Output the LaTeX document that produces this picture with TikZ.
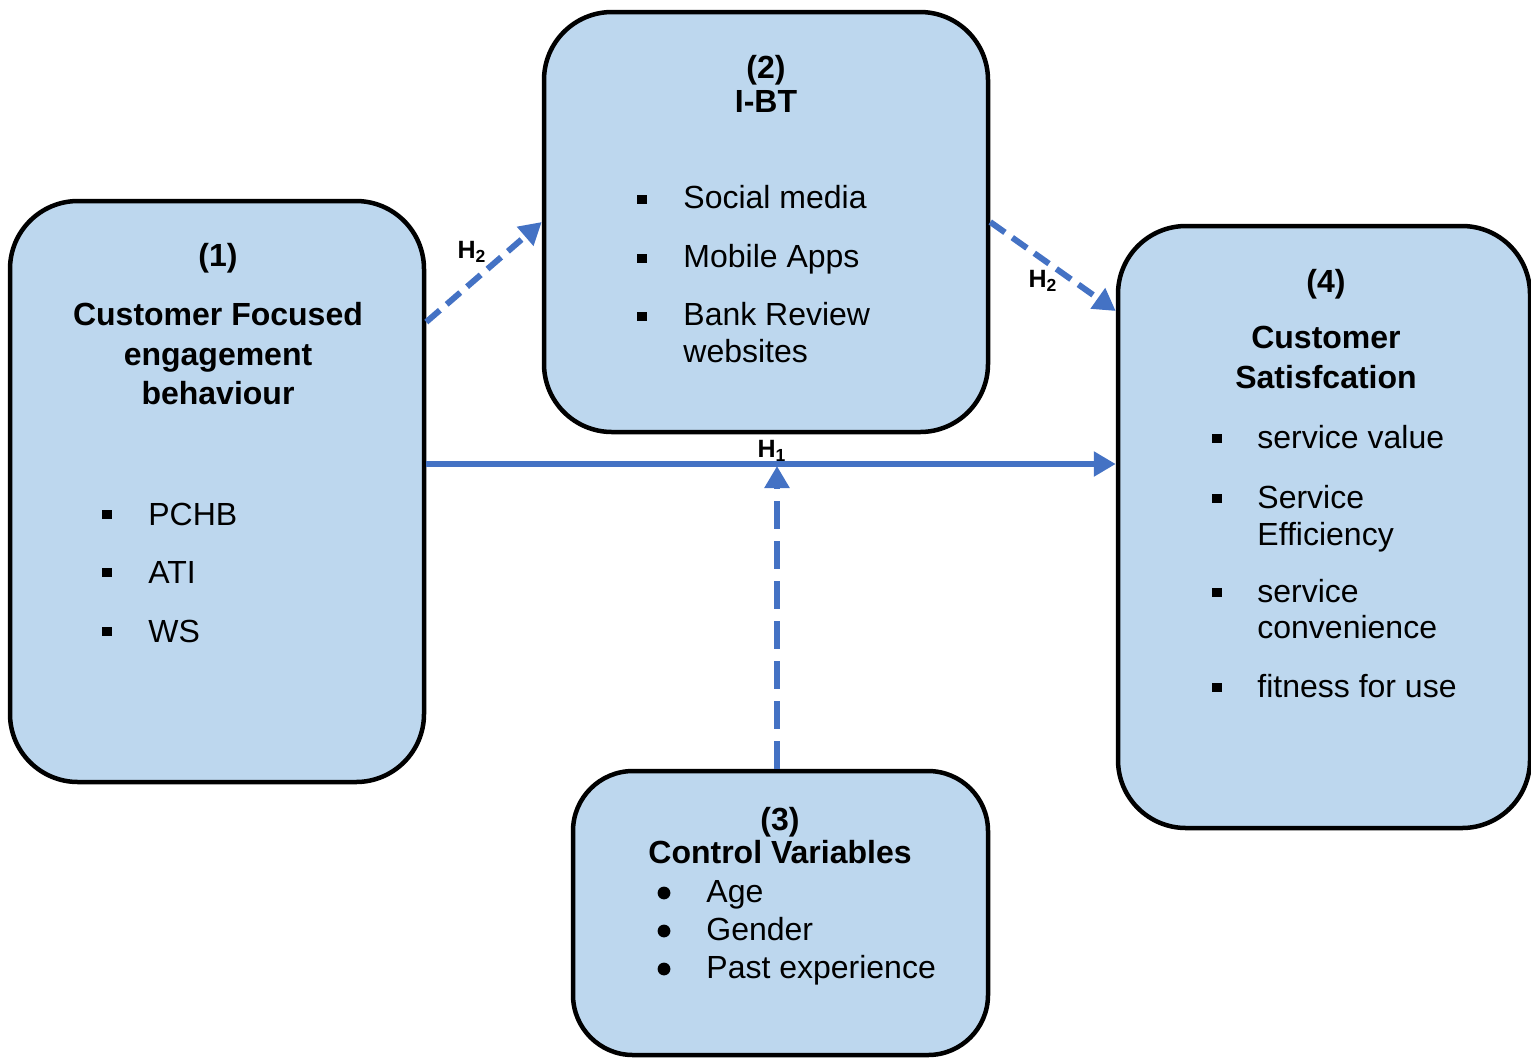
\documentclass[tikz,border=0pt]{standalone}
\usepackage{fontspec}
\setmainfont{Liberation Sans}
\usetikzlibrary{positioning}
\usetikzlibrary{arrows.meta}
\usetikzlibrary{calc}

\definecolor{boxfill}{RGB}{189,215,238}
\definecolor{linkblue}{RGB}{68,114,196}

\begin{document}
\begin{tikzpicture}[x=0.5pt,y=-0.5pt,
		box/.style={draw=black, line width=2.25pt, fill=boxfill, rounded corners=34pt, inner sep=0pt},
		title/.style={font=\fontsize{16}{19}\selectfont\bfseries, anchor=base, inner sep=0pt},
		entry/.style={font=\fontsize{16}{19}\selectfont, anchor=base west, inner sep=0pt},
		hlabel/.style={font=\fontsize{12.5}{14}\selectfont\bfseries, inner sep=0pt},
		link/.style={draw=linkblue, line width=2.75pt, -{Triangle[length=11pt,width=12pt]}},
		longdash/.style={link, dash pattern=on 14pt off 6pt},
		shortdash/.style={link, line width=3pt, dash pattern=on 9pt off 4.5pt}]
		\useasboundingbox (0,0) rectangle (1531,1057);

		% Define the boxes
		\node[box, minimum width=207pt, minimum height=290.5pt] (cfe) at (217,491.5) {};
		\node[box, minimum width=222pt, minimum height=210pt] (ibt) at (766,222) {};
		\node[box, minimum width=207.5pt, minimum height=142pt, rounded corners=30pt] (ctrl) at (780.5,913) {};
		\node[box, minimum width=206pt, minimum height=301pt] (csat) at (1324,527) {};

		% Titles
		\foreach \y/\txt [count=\i] in {266/{(1)}, 325/Customer Focused, 365/engagement, 404/behaviour}
		\node[title] (t1-\i) at (218,\y) {\txt};
		\foreach \y/\txt [count=\i] in {78/{(2)}, 112/I-BT}
		\node[title] (t2-\i) at (766,\y) {\txt};
		\foreach \y/\txt [count=\i] in {830/{(3)}, 863/Control Variables}
		\node[title] (t3-\i) at (780,\y) {\txt};
		\foreach \y/\txt [count=\i] in {292/{(4)}, 348/Customer, 388/Satisfcation}
		\node[title] (t4-\i) at (1326,\y) {\txt};

		% Bullet lists
		\foreach \y/\txt [count=\i] in {525/PCHB, 583/ATI, 642/WS} {
			\fill (102,\y-15.5) rectangle +(9.5,9.5);
			\node[entry] (b1-\i) at (148,\y) {\txt};
		}
		\foreach \y/\txt [count=\i] in {208/Social media, 267/Mobile Apps, 325/Bank Review} {
			\fill (637,\y-13.5) rectangle +(9.5,9.5);
			\node[entry] (b2-\i) at (683,\y) {\txt};
		}
		\node[entry] (b2-more) at (683,362) {websites};
		\foreach \y/\txt [count=\i] in {902/Age, 940/Gender, 978/Past experience} {
			\fill (664,\y-9) circle (3.2pt);
			\node[entry] (b3-\i) at (706,\y) {\txt};
		}
		\foreach \y/\txt [count=\i] in {448/service value, 508/Service, 602/service, 697/fitness for use} {
			\fill (1212,\y-14.5) rectangle +(9.5,9.5);
			\node[entry] (b4-\i) at (1257,\y) {\txt};
		}
		\node[entry] (b4-more1) at (1257,545) {Efficiency};
		\node[entry] (b4-more2) at (1257,638) {convenience};

		% Draw the links
		\draw[link] (cfe.east |- 0,464) -- (csat.west |- 0,464);
		\draw[longdash] ([xshift=-1.75pt]ctrl.north) -- ([xshift=-1.75pt]ctrl.north |- 0,466);
		\draw[shortdash] (cfe.east |- 0,322) -- (ibt.west);
		\draw[shortdash] (ibt.east) -- (csat.west |- 0,311);

		\node[hlabel] (h1) at (772,451) {H\textsubscript{1}};
		\node[hlabel] (h2a) at (472,252) {H\textsubscript{2}};
		\node[hlabel] (h2b) at (1043,281) {H\textsubscript{2}};
\end{tikzpicture}
\end{document}
